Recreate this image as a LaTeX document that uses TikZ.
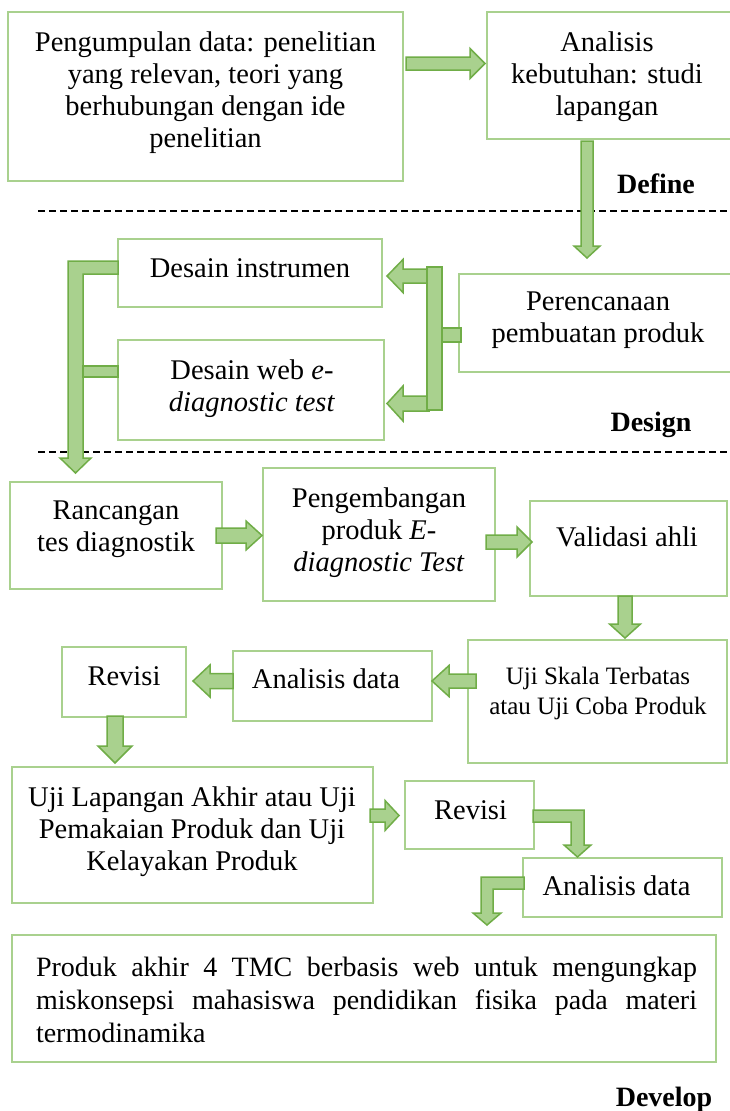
\documentclass[tikz,border=0pt]{standalone}
\usepackage{fontspec}
\setmainfont{Liberation Serif}
\usetikzlibrary{calc}
\definecolor{boxline}{HTML}{A9D18E}
\definecolor{arrline}{HTML}{70AD47}
\definecolor{arrfill}{HTML}{A9D18E}
\tikzset{
  box/.style={draw=boxline, line width=2pt, fill=white, inner sep=0pt, outer sep=0pt, anchor=north west},
  blk/.style={fill=arrfill, draw=arrline, line width=1.5pt, line join=miter},
  txt/.style={font=\fontsize{28.5}{32}\selectfont, align=center, inner sep=0pt},
  lbl/.style={font=\fontsize{28}{32}\selectfont\bfseries, inner sep=0pt, anchor=base},
  sep/.style={draw=black, line width=1.3pt, dash pattern=on 7pt off 4pt}
}
% horizontal block arrow: start, tip, shaft half, head half, head length (negative = pointing left)
\newcommand\arrH[5]{\path[blk] let \p1=#1, \p2=#2 in
  ({\x1},{\y1+#3}) -- ({\x2-(#5)},{\y1+#3}) -- ({\x2-(#5)},{\y1+#4}) -- ({\x2},{\y1})
  -- ({\x2-(#5)},{\y1-#4}) -- ({\x2-(#5)},{\y1-#3}) -- ({\x1},{\y1-#3}) -- cycle;}
% vertical (downward) block arrow: start, tip, shaft half, head half, head length
\newcommand\arrV[5]{\path[blk] let \p1=#1, \p2=#2 in
  ({\x1-#3},{\y1}) -- ({\x1-#3},{\y2+#5}) -- ({\x1-#4},{\y2+#5}) -- ({\x1},{\y2})
  -- ({\x1+#4},{\y2+#5}) -- ({\x1+#3},{\y2+#5}) -- ({\x1+#3},{\y1}) -- cycle;}
\newcommand\bx[5]{\node[box, minimum width={#4-#2}, minimum height={#5-#3}] (#1) at (#2,#3) {};}
\begin{document}
\begin{tikzpicture}[x=1pt,y=-1pt]
\useasboundingbox[fill=white] (0,0) rectangle (729,1111);
% boxes
\bx{b1}{8}{12}{403}{181}
\bx{b2}{487}{12}{733}{139}
\bx{di}{118}{239}{382}{307}
\bx{dw}{118}{340}{384}{440}
\bx{pr}{459}{274}{733}{372}
\bx{rc}{10}{482}{222}{589}
\bx{pg}{263}{468}{495}{601}
\bx{va}{530}{501}{727}{596}
\bx{us}{468}{640}{727}{763}
\bx{ad}{233}{651}{432}{721}
\bx{ra}{62}{647}{186}{717}
\bx{ul}{12}{767}{373}{903}
\bx{rb}{405}{781}{534}{849}
\bx{ae}{523}{858}{722}{917}
\bx{pk}{12}{935}{716}{1062}
% separators
\draw[sep] (38,211) -- (729,211);
\draw[sep] (38,452) -- (729,452);
% arrows
\arrH{($(b1.east)+(3,-33)$)}{($(b2.west)+(-2,0)$)}{6.5}{15}{15}
\arrV{($(b2.south west)+(100,2)$)}{($(pr.north west)+(128,-16)$)}{6}{13}{12}
% branch from Perencanaan
\arrH{($(di.east)+(47,3)$)}{($(di.east)+(5,0)$)}{7}{16.5}{-16}
\arrH{($(dw.east)+(45,13.5)$)}{($(dw.east)+(3,0)$)}{7.5}{17.5}{-16}
\path[blk] let \p1=(pr.west) in ({\x1-32},{\y1+56}) rectangle ({\x1-17},{\y1-87});
\path[blk] let \p1=(pr.west) in ({\x1-17},{\y1-5}) rectangle ({\x1+2},{\y1-19});
% bracket from Desain boxes to Rancangan
\path[blk] let \p1=(di.west), \p2=(rc.north) in
  ({\x1},{\y1+12}) -- ({\x1-50},{\y1+12}) -- ({\x1-50},{\y2+24}) -- ({\x1-58},{\y2+24})
  -- ({\x1-42.5},{\y2+9}) -- ({\x1-27},{\y2+24}) -- ({\x1-35},{\y2+24}) -- ({\x1-35},{\y1-1})
  -- ({\x1},{\y1-1}) -- cycle;
\path[blk] let \p1=(dw.west) in ({\x1-35},{\y1+24}) rectangle ({\x1},{\y1+13});
\arrH{($(rc.east)+(-6,0)$)}{($(pg.west)+(-1,0)$)}{7.5}{14.5}{16}
\arrH{($(pg.east)+(-9,7.5)$)}{($(va.west)+(2,0)$)}{7}{15}{15}
\arrV{($(va.south)+(-3.5,0)$)}{($(us.north)+(0,-2)$)}{7}{15.5}{14}
\arrH{($(us.west)+(8,-20.5)$)}{(ad.east)}{7}{15.5}{-17}
\arrH{($(ad.west)+(0,-5)$)}{($(ra.east)+(7,0)$)}{7.5}{16}{-17}
\arrV{($(ra.south)+(-9,-1)$)}{($(ul.north)+(0,-4)$)}{8}{17}{17}
\arrH{($(ul.east)+(-3,-19.5)$)}{($(rb.west)+(-6,0)$)}{6.5}{15}{14}
\path[blk] let \p1=(rb.east), \p2=(ae.north) in
  ({\x1-1},{\y1+5}) -- ({\x1+50},{\y1+5}) -- ({\x1+50},{\y2+13}) -- ({\x1+57},{\y2+13})
  -- ({\x1+43.5},{\y2+1}) -- ({\x1+30},{\y2+13}) -- ({\x1+37},{\y2+13}) -- ({\x1+37},{\y1-7})
  -- ({\x1-1},{\y1-7}) -- cycle;
\path[blk] let \p1=(ae.west), \p2=(pk.north) in
  ({\x1+1},{\y1+10.5}) -- ({\x1-42},{\y1+10.5}) -- ({\x1-42},{\y2+22}) -- ({\x1-50},{\y2+22})
  -- ({\x1-36},{\y2+10}) -- ({\x1-22},{\y2+22}) -- ({\x1-30},{\y2+22}) -- ({\x1-30},{\y1-1.5})
  -- ({\x1+1},{\y1-1.5}) -- cycle;
% texts
\node[txt] (t1) at (205.5,93) {Pengumpulan data: penelitian\\yang relevan, teori yang\\berhubungan dengan ide\\penelitian};
\node[txt] (t2) at (607,76.5) {Analisis\\kebutuhan: studi\\lapangan};
\node[txt] (t3) at (250,268) {Desain instrumen};
\node[txt] (t4) at (252,389) {Desain web \textit{e}-\\\textit{diagnostic test}};
\node[txt] (t5) at (598,320.5) {Perencanaan\\pembuatan produk};
\node[txt] (t6) at (116,529) {Rancangan\\tes diagnostik};
\node[txt] (t7) at (379,533) {Pengembangan\\produk \textit{E}-\\\textit{diagnostic Test}};
\node[txt] (t8) at (627,537) {Validasi ahli};
\node[txt, font=\fontsize{25}{30}\selectfont] (t9) at (598,693) {Uji Skala Terbatas\\atau Uji Coba Produk};
\node[txt] (t10) at (326,679) {Analisis data};
\node[txt] (t11) at (124,676) {Revisi};
\node[txt] (t12) at (192,832) {Uji Lapangan Akhir atau Uji\\Pemakaian Produk dan Uji\\Kelayakan Produk};
\node[txt] (t13) at (470.5,810) {Revisi};
\node[txt] (t14) at (616.5,886) {Analisis data};
\node[txt, text width=661pt, align=justify, font=\fontsize{28}{33}\selectfont] (t15) at (366.5,999.5) {\noindent Produk akhir 4 TMC berbasis web untuk mengungkap\linebreak miskonsepsi mahasiswa pendidikan fisika pada materi\linebreak termodinamika};
% phase labels
\node[lbl] (ldef) at (656,193) {Define};
\node[lbl] (ldes) at (651,431) {Design};
\node[lbl] (ldev) at (664,1106) {Develop};
\end{tikzpicture}
\end{document}
